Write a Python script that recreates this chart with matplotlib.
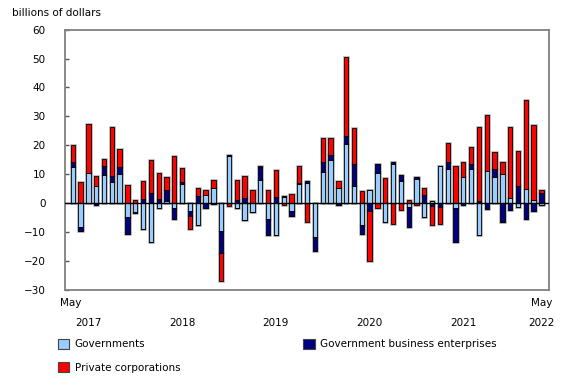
import numpy as np
import matplotlib
matplotlib.use("Agg")
import matplotlib.pyplot as plt
import matplotlib.transforms as mtransforms
from matplotlib.patches import Patch

# monthly values, May 2017 to May 2022 (billions of dollars)
governments = [
    12.5, -8.3, 10.5, 6.0, 9.7, 7.4, 10.2, -4.8,
    -3.0, -9.1, -13.6, -1.8, 0.8, -1.6, 6.7, -2.8, -7.4, 2.7, 5.1, -9.5,
    16.3, -1.6, -5.7, -2.9, 8.1, -5.5, -10.9, 2.3, -2.8, 6.5, 6.9, -11.8,
    10.9, 14.9, 5.3, 20.6, 6.0, -7.6, 4.6, 10.5, -6.6, 13.5, 7.7, -1.5,
    8.3, -4.8, 0.9, 12.9, 11.7, -1.8, 9.1, 11.7, -10.9, 11.2, 9.2, 10.2,
    1.8, -1.4, 5.0, 1.0, -0.5,
]
gov_business = [
    1.9, -1.5, 0.0, -0.8, 3.1, 2.0, 2.2, -5.8,
    -0.3, 1.3, 3.6, 1.5, 3.9, -3.9, 0.6, -1.5, 2.4, -1.6, -0.4, -7.6,
    0.4, 1.0, 1.7, 0.2, 4.4, -5.6, 2.1, 0.1, -1.6, 0.5, 0.6, -4.6,
    3.2, 1.6, -0.6, 2.6, 7.4, -3.0, -2.7, 3.2, 0.0, 0.6, 1.9, -6.9,
    0.6, 2.8, -0.9, -1.4, 2.7, -11.8, -0.8, 1.7, 0.9, -2.0, 2.5, -6.6,
    -2.3, 5.8, -5.4, -2.8, 3.6,
]
private_corp = [
    5.6, 7.2, 16.8, 3.5, 2.3, 16.9, 6.2, 6.4,
    1.2, 6.2, 11.2, 8.8, 4.2, 16.3, 4.9, -4.7, 3.0, 1.8, 2.9, -9.9,
    -0.9, 7.0, 7.7, 4.5, 0.2, 4.7, 9.2, -0.7, 3.3, 5.9, -6.5, 0.0,
    8.6, 6.2, 2.3, 27.4, 12.7, 4.3, -17.2, -1.8, 8.8, -7.3, -2.4, 1.0,
    -0.8, 2.6, -6.5, -5.8, 6.4, 12.9, 5.0, 5.9, 25.4, 19.3, 6.1, 4.2,
    24.6, 12.4, 30.7, 25.9, 0.8,
]
series_names = ["Governments", "Government business enterprises", "Private corporations"]
series_colors = ["#99ccff", "#000080", "#ff0000"]
year_labels = ["2017", "2018", "2019", "2020", "2021", "2022"]
year_positions = [2, 14, 26, 38, 50, 60]
month_labels = ["May", "May"]
month_positions = [-0.3, 60]

plt.rcParams["font.family"] = ["DejaVu Sans"]
plt.rcParams["font.size"] = 7.5

fig = plt.figure(figsize=(5.8, 3.85), dpi=100)
ax = fig.add_axes([0.112, 0.247, 0.835, 0.676])

x = np.arange(len(governments))
pos_base = np.zeros(len(x))
neg_base = np.zeros(len(x))
for vals, color in zip([governments, gov_business, private_corp], series_colors):
    v = np.array(vals)
    pos = np.where(v > 0, v, 0)
    neg = np.where(v < 0, v, 0)
    for h, b in ((pos, pos_base), (neg, neg_base)):
        # soft grey halo then the black-outlined bar
        ax.bar(x, h, bottom=b, width=0.55, color=color, edgecolor="#aaaaaa",
               linewidth=1.8, zorder=2)
        ax.bar(x, h, bottom=b, width=0.55, color=color, edgecolor="black",
               linewidth=0.6, zorder=3)
    pos_base += pos
    neg_base += neg

ax.axhline(0, color="black", linewidth=1.0, zorder=4)

ax.set_xlim(-1, 61)
ax.set_ylim(-30, 60)
ax.set_yticks(np.arange(-30, 61, 10))
ax.tick_params(axis="y", direction="in", length=3, width=1, color="#555555",
               pad=14, labelsize=7.5)
ax.set_xticks(year_positions)
ax.set_xticklabels(year_labels)
ax.tick_params(axis="x", length=0, pad=20)

# month names above the first and last year labels
trans = mtransforms.blended_transform_factory(ax.transData, ax.transAxes)
for mx, ml in zip(month_positions, month_labels):
    ax.text(mx, -0.03, ml, transform=trans, ha="center", va="top", fontsize=7.5)

for s in ax.spines.values():
    s.set_color("#808080")
    s.set_linewidth(1.3)

fig.text(0.02, 0.98, "billions of dollars", ha="left", va="top", fontsize=7.5)

handles = [Patch(facecolor=c, edgecolor="#444444", linewidth=0.8) for c in series_colors]
order = [0, 2, 1]
fig.legend([handles[i] for i in order], [series_names[i] for i in order],
           ncol=2, loc="upper left", bbox_to_anchor=(0.1, 0.12),
           frameon=False, fontsize=7.5, handlelength=1.1, handleheight=1.1,
           handletextpad=0.5, columnspacing=11.8, labelspacing=1.25,
           borderaxespad=0, borderpad=0)

fig.savefig("out.png", dpi=100)
